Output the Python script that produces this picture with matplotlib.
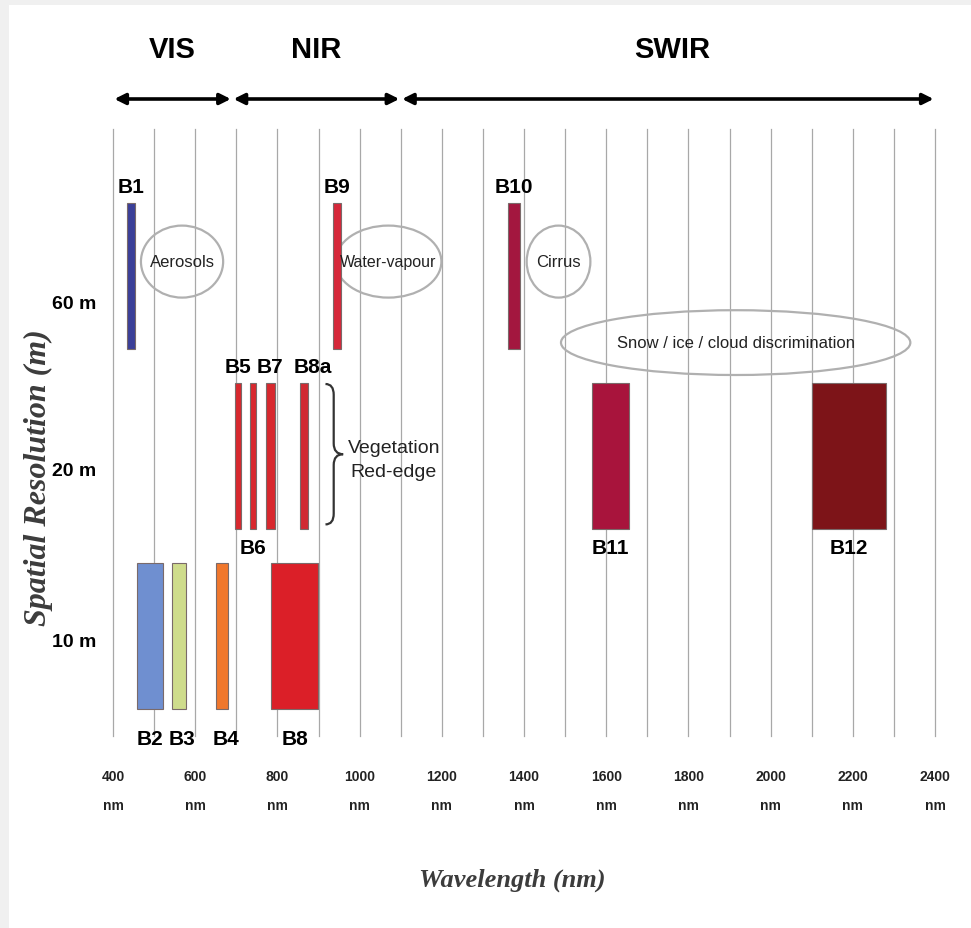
import numpy as np
import matplotlib
matplotlib.use("Agg")
from matplotlib import pyplot as plt
from matplotlib.patches import Ellipse, PathPatch, Rectangle
from matplotlib.path import Path

# Sentinel-2 MSI bands: centre wavelength (nm), bandwidth (nm), resolution (m)
bands = ["B1", "B2", "B3", "B4", "B5", "B6", "B7", "B8", "B8a",
         "B9", "B10", "B11", "B12"]
centre_nm = [443, 490, 560, 665, 705, 740, 783, 842, 865, 945, 1375, 1610, 2190]
width_nm = [20, 65, 35, 30, 15, 15, 20, 115, 20, 20, 30, 90, 180]
resolution_m = [60, 10, 10, 10, 20, 20, 20, 10, 20, 60, 60, 20, 20]
band_colors = ["#3b3f98", "#6f8fd0", "#cfdc8c", "#f0772c", "#d8282e", "#d8282e",
               "#d8282e", "#db1f28", "#d02a32", "#d6283a", "#a3173f", "#a8143c",
               "#7d1418"]
label_side = ["top", "bottom", "bottom", "bottom", "top", "bottom", "top",
              "bottom", "top", "top", "top", "bottom", "bottom"]
label_shift = [0, 0, 8, 10, 0, 0, 0, 0, 22, 0, 0, 0, 0]

# spectral regions along the top
regions = ["VIS", "NIR", "SWIR"]
region_start = [400, 690, 1100]
region_end = [690, 1100, 2400]

res_labels = ["10 m", "20 m", "60 m"]
xticks = [400, 600, 800, 1000, 1200, 1400, 1600, 1800, 2000, 2200, 2400]

# (text, x centre nm, row, width nm, height rows, font size)
notes = [("Aerosols", 568, 2.08, 200, 0.40, 12),
         ("Water-vapour", 1070, 2.08, 258, 0.40, 11.5),
         ("Cirrus", 1484, 2.08, 155, 0.40, 12),
         ("Snow / ice / cloud discrimination", 1915, 1.63, 850, 0.36, 12)]

NARROW = ["Liberation Sans Narrow", "Liberation Sans", "DejaVu Sans"]
SERIF = ["Liberation Serif", "DejaVu Serif"]

fig = plt.figure(figsize=(9.71, 9.29), dpi=100)
W, H = 971, 929
# axes spans the gridlines: 400 nm at x=113 px, 2400 nm at x=935 px
ax = fig.add_axes([113 / W, 1 - 737 / H, 822 / W, 607 / H])
ax.set_xlim(400, 2400)
ax.set_ylim(-100 / 180, 507 / 180)
for s in ax.spines.values():
    s.set_visible(False)

# faint frame on the left and top edges
fig.patches.append(Rectangle((0, 0), 9 / W, 1, transform=fig.transFigure,
                             facecolor="#f0f0f0", edgecolor="none"))
fig.patches.append(Rectangle((0, 1 - 6 / H), 1, 6 / H,
                             transform=fig.transFigure,
                             facecolor="#f0f0f0", edgecolor="none"))

# vertical gridlines every 100 nm
for g in range(400, 2401, 100):
    ax.axvline(g, color="#a8a8a8", lw=0.9, zorder=0, clip_on=False)

row = {10: 0.0, 20: 1.0, 60: 2.0}
bar_h = 0.81
for name, c, w, r, col, side, dx in zip(bands, centre_nm, width_nm,
                                         resolution_m, band_colors,
                                         label_side, label_shift):
    y0 = row[r] - bar_h / 2
    ax.bar(c, bar_h, width=w, bottom=y0, color=col, edgecolor="#7a6a6a",
           linewidth=0.8, zorder=3)
    if side == "top":
        ax.text(c + dx, y0 + bar_h + 0.04, name, ha="center", va="bottom",
                family=NARROW, weight="bold", fontsize=15, zorder=4)
    else:
        gap = 0.11 if r == 10 else 0.05
        ax.text(c + dx, y0 - gap, name, ha="center", va="top",
                family=NARROW, weight="bold", fontsize=15, zorder=4)

# region arrows and labels
arrow_y = 537 / 180
for name, a, b in zip(regions, region_start, region_end):
    ax.annotate("", xy=(b, arrow_y), xytext=(a, arrow_y),
                arrowprops=dict(arrowstyle="<|-|>", color="black", lw=2.6,
                                mutation_scale=16, shrinkA=1, shrinkB=1),
                annotation_clip=False)
    ax.text((a + b) / 2 + (10 if name == "SWIR" else 0), 3.26, name,
            ha="center", va="center", family=NARROW, weight="bold",
            fontsize=21)

# annotation ellipses
for text, cx, cy, ew, eh, fs in notes:
    ax.add_patch(Ellipse((cx, cy), ew, eh, fill=False, edgecolor="#b0b0b0",
                         lw=1.6, zorder=2))
    ax.text(cx, cy, text, ha="center", va="center", family=NARROW,
            fontsize=fs, color="#222222", zorder=4)

# curly brace for the red-edge bands
x0, x1, x2 = 917, 937, 960
top, bot = 1.40, 0.62
mid = (top + bot) / 2
r = 0.06
verts = [(x0, top), (x1, top), (x1, top - r),
         (x1, mid + r), (x1, mid), (x2, mid),
         (x1, mid), (x1, mid - r),
         (x1, bot + r), (x1, bot), (x0, bot)]
codes = [Path.MOVETO, Path.CURVE3, Path.CURVE3,
         Path.LINETO, Path.CURVE3, Path.CURVE3,
         Path.CURVE3, Path.CURVE3,
         Path.LINETO, Path.CURVE3, Path.CURVE3]
ax.add_patch(PathPatch(Path(verts, codes), fill=False, edgecolor="#333333",
                       lw=1.6, zorder=4))
ax.text(1083, 0.98, "Vegetation\nRed-edge", ha="center", va="center",
        family=NARROW, fontsize=14, color="#222222", linespacing=1.5)

# axes ticks
ax.set_xticks(xticks)
ax.set_xticklabels([f"{t}\nnm" for t in xticks], family=NARROW,
                   weight="bold", fontsize=10, linespacing=2.3, color="#222222")
ax.tick_params(axis="x", length=0, pad=24)
ax.set_yticks([-0.02, 0.93, 1.86])
ax.set_yticklabels(res_labels, family=NARROW, weight="bold", fontsize=14)
ax.tick_params(axis="y", length=0, pad=12)

fig.text(38 / W, 1 - 478 / H, "Spatial Resolution (m)", rotation=90,
         ha="center", va="center", family=SERIF, style="italic",
         weight="bold", fontsize=23, color="#3c3c3c")
fig.text(512 / W, 1 - 880 / H, "Wavelength (nm)", ha="center", va="center",
         family=SERIF, style="italic", weight="bold", fontsize=19,
         color="#3c3c3c")

fig.savefig("out.png", dpi=100)
